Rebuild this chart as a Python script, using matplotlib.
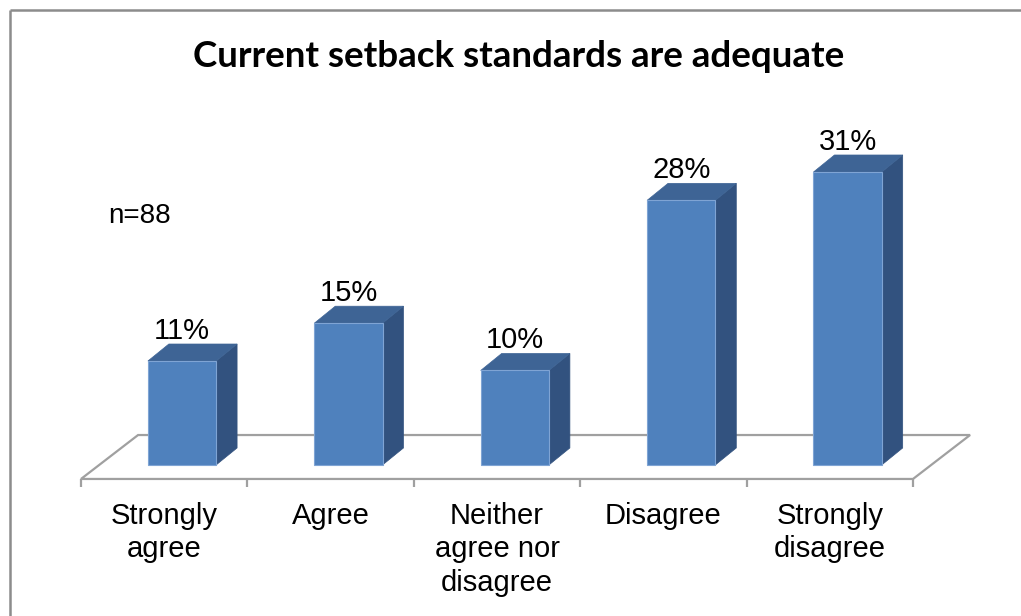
import matplotlib
matplotlib.use("Agg")
import matplotlib.pyplot as plt
from matplotlib.patches import Polygon
from matplotlib.lines import Line2D

categories = ["Strongly\nagree", "Agree", "Neither\nagree nor\ndisagree", "Disagree", "Strongly\ndisagree"]
values = [11, 15, 10, 28, 31]
value_labels = ["11%", "15%", "10%", "28%", "31%"]
title = "Current setback standards are adequate"
note = "n=88"

front_col = "#4F81BD"
top_col = "#3E6495"
side_col = "#32527F"
edge_col = "#7FA4D4"
floor_col = "#A0A0A0"

# pseudo-3D geometry (data units)
bar_w = 0.41
bar_shift = 0.107      # bar front face sits a bit behind the floor's front edge
depth_x, depth_y = 0.126, 1.8
floor_front, floor_back = -1.48, 3.17
floor_dx = 0.343

fig = plt.figure(figsize=(10.21, 6.16), dpi=100)
ax = fig.add_axes([0, 0, 1, 1])
ax.set_xlim(-0.9868, 5.149)
ax.set_ylim(-15.98, 49.2)
ax.axis("off")

n = len(values)
x0, x1 = -0.5, n - 0.5

# floor
floor = Polygon([(x0, floor_front), (x1, floor_front),
                 (x1 + floor_dx, floor_back), (x0 + floor_dx, floor_back)],
                closed=True, facecolor="white", edgecolor=floor_col, lw=1.6, zorder=1)
ax.add_patch(floor)

# category tick marks under the front edge
for b in range(n + 1):
    ax.plot([x0 + b, x0 + b], [floor_front, floor_front - 0.8], color=floor_col, lw=1.6,
            zorder=1, solid_capstyle="butt")

# bars
xs = [i + bar_shift for i in range(n)]
for xc, v in zip(xs, values):
    l, r = xc - bar_w / 2, xc + bar_w / 2
    side = Polygon([(r, 0), (r + depth_x, depth_y), (r + depth_x, v + depth_y), (r, v)],
                   closed=True, facecolor=side_col, edgecolor=side_col, lw=0.5, zorder=3)
    top = Polygon([(l, v), (r, v), (r + depth_x, v + depth_y), (l + depth_x, v + depth_y)],
                  closed=True, facecolor=top_col, edgecolor=top_col, lw=0.5, zorder=3)
    ax.add_patch(side)
    ax.add_patch(top)
ax.bar(xs, values, width=bar_w, color=front_col, edgecolor=edge_col, lw=0.8, zorder=4)

for xc, v, lab in zip(xs, values, value_labels):
    ax.text(xc, v + depth_y + 0.55, lab, ha="center", va="baseline",
            fontsize=21, family="Liberation Sans", color="black", zorder=5)

for i, lab in enumerate(categories):
    ax.text(i, floor_front - 2.4, lab, ha="center", va="top", fontsize=21,
            family="Liberation Sans", color="black", linespacing=1.25)

fig.text(519 / 1021, 1 - 67 / 616, title, ha="center", va="baseline",
         fontsize=26.5, fontweight="bold", family="Lato", color="black")
fig.text(108 / 1021, 1 - 223 / 616, note, ha="left", va="baseline",
         fontsize=20, family="Liberation Sans", color="black")

# chart frame (only the top and left edges fall inside the image)
fx, fy = 10 / 1021, 1 - 9.5 / 616
fig.lines.append(Line2D([fx, 1.1], [fy, fy], transform=fig.transFigure,
                        color="#8C8C8C", lw=1.8, solid_capstyle="butt"))
fig.lines.append(Line2D([fx, fx], [-0.1, fy], transform=fig.transFigure,
                        color="#8C8C8C", lw=1.8, solid_capstyle="butt"))

fig.savefig("out.png", dpi=100)
